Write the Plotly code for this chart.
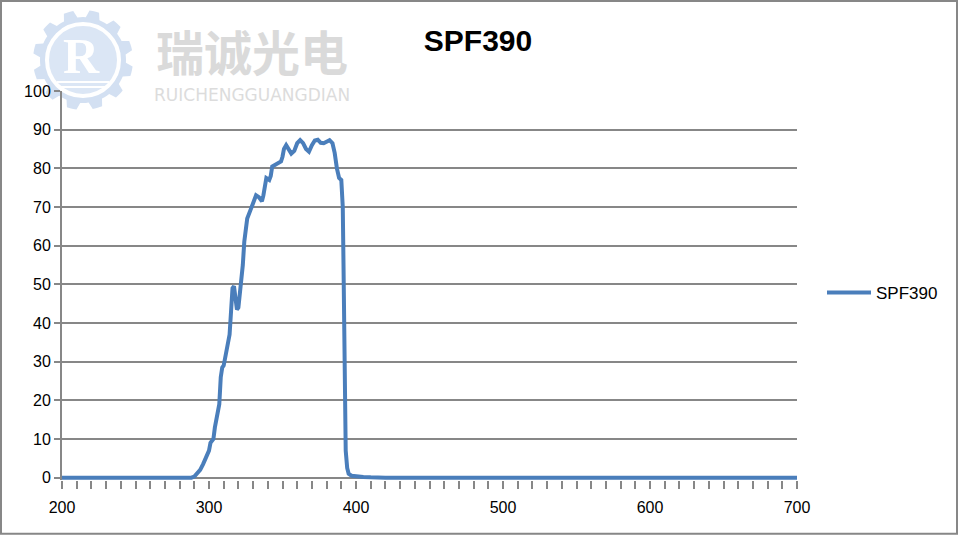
import numpy as np
import plotly.graph_objects as go

# ---- data ----
wavelength = [200, 288, 290, 292, 294, 296, 298, 300, 301, 303, 304, 305, 306, 307, 308, 309, 310,
              311, 312, 313, 314, 315, 316, 317, 318, 319, 320, 321, 322, 323, 324, 325, 326, 328,
              330, 332, 334, 336, 337, 338, 339, 341, 342, 343, 345, 347, 349, 350, 351, 352.5, 354,
              356, 358, 360, 362, 364, 366, 368, 370, 372, 374, 376, 378, 380, 382, 384, 385.5, 387,
              388.5, 390, 391, 391.5, 392, 392.5, 393, 394, 395, 397, 400, 405, 410, 420, 700]
transmission = [0, 0, 0.3, 1, 2, 3.5, 5.5, 7, 9, 10, 13, 15, 16, 19, 26, 28.5, 29,
                31, 33, 35, 37, 43, 49, 49.5, 46, 43.5, 44, 47, 50, 55, 61, 64, 67, 69,
                71, 73, 72.5, 71.5, 73, 76, 77.5, 77, 78, 80.5, 81, 81.3, 81.8, 83, 85, 86, 85,
                83.8, 84.5, 86.5, 87.3, 86.5, 85, 84.3, 86, 87.2, 87.4, 86.6, 86.5, 87, 87.3, 86.5, 84, 80,
                77.5, 77, 70, 55, 35, 15, 7, 2.5, 1, 0.5, 0.3, 0.2, 0.1, 0, 0]
series_name = "SPF390"
title_text = "SPF390"
x_ticks = [200, 300, 400, 500, 600, 700]
y_ticks = list(range(0, 101, 10))
watermark_cn = "瑞诚光电"
watermark_en = "RUICHENGGUANGDIAN"

W, H = 958, 535
L, R, T = 62, 797, 91
Y0_PX = 478
YMIN = -0.6
ppu = (Y0_PX - T) / 100.0
B_PX = Y0_PX + (0 - YMIN) * ppu  # bottom of plot area in px


def px(xp):
    return (xp - L) / (R - L)


def py(yp):
    return (B_PX - yp) / (B_PX - T)


grey = "#878787"
blue = "#4a7ebb"

fig = go.Figure()
fig.add_trace(go.Scatter(x=wavelength, y=transmission, mode="lines", name=series_name,
                         line=dict(color=blue, width=4)))

shapes = []
# gear watermark
cx, cy = 83, 60
n_teeth = 12
angles = np.linspace(0, 2 * np.pi, n_teeth * 8, endpoint=False)
pts = []
for a in angles:
    k = (a / (2 * np.pi / n_teeth)) % 1
    r = 50 if (0.25 <= k < 0.65) else 43
    pts.append((cx + r * np.cos(a), cy + r * np.sin(a)))
path = "M " + " L ".join(f"{px(x):.5f},{py(y):.5f}" for x, y in pts) + " Z"
shapes.append(dict(type="path", path=path, xref="paper", yref="paper",
                   fillcolor="#d3e0f2", line=dict(width=0), layer="below"))
shapes.append(dict(type="circle", xref="paper", yref="paper",
                   x0=px(cx - 36), x1=px(cx + 36), y0=py(cy + 36), y1=py(cy - 36),
                   fillcolor="#dbe6f5", line=dict(color="white", width=4), layer="below"))
for dy in (22, 27):
    shapes.append(dict(type="line", xref="paper", yref="paper",
                       x0=px(cx - 26), x1=px(cx + 26), y0=py(cy + dy), y1=py(cy + dy),
                       line=dict(color="white", width=2), layer="below"))
# outer border
shapes.append(dict(type="rect", xref="paper", yref="paper",
                   x0=px(1), x1=px(W - 1), y0=py(H - 1), y1=py(1),
                   line=dict(color=grey, width=2), layer="below"))

annotations = [
    dict(text="<b>R</b>", x=px(cx - 2), y=py(cy - 4), xref="paper", yref="paper", showarrow=False,
         xanchor="center", yanchor="middle",
         font=dict(family="Liberation Serif", size=50, color="white")),
    dict(text=f"<b>{watermark_cn}</b>", x=px(252), y=py(50), xref="paper", yref="paper",
         xanchor="center", yanchor="middle",
         showarrow=False, font=dict(family="Noto Sans CJK SC", size=48, color="#dadada")),
    dict(text=watermark_en, x=px(252), y=py(95), xref="paper", yref="paper", showarrow=False,
         xanchor="center", yanchor="middle",
         font=dict(family="DejaVu Sans", size=17, color="#dcdcdc")),
]

fig.update_layout(
    width=W, height=H,
    margin=dict(l=L, r=W - R, t=T, b=H - B_PX, pad=0),
    paper_bgcolor="white", plot_bgcolor="rgba(0,0,0,0)",
    font=dict(family="Liberation Sans", size=16, color="black"),
    title=dict(text=f"<b>{title_text}</b>", x=478 / W, xanchor="center", y=1 - 40 / H,
               yanchor="middle", font=dict(family="Liberation Sans", size=30, color="black")),
    showlegend=True,
    legend=dict(x=px(822), y=py(293), xanchor="left", yanchor="middle",
                font=dict(size=17), bgcolor="rgba(0,0,0,0)", itemwidth=44),
    shapes=shapes, annotations=annotations,
)
fig.update_xaxes(range=[200, 700], tickvals=x_ticks, ticks="outside", ticklen=8, tickwidth=2,
                 tickcolor=grey, showgrid=False, zeroline=False, showline=False,
                 ticklabelstandoff=5,
                 minor=dict(dtick=10, ticks="outside", ticklen=8, tickwidth=2, tickcolor=grey,
                            showgrid=False),
                 tickfont=dict(size=16))
fig.update_yaxes(range=[YMIN, 100], tickvals=y_ticks, ticks="outside", ticklen=6, tickwidth=2,
                 tickcolor=grey, showgrid=True, gridcolor=grey, gridwidth=2,
                 zeroline=False, showline=True, linecolor=grey, linewidth=2,
                 tickfont=dict(size=16))

fig.write_html("out.html", config={"displayModeBar": False},
               post_script="document.body.style.margin='0';document.body.style.padding='0';")
